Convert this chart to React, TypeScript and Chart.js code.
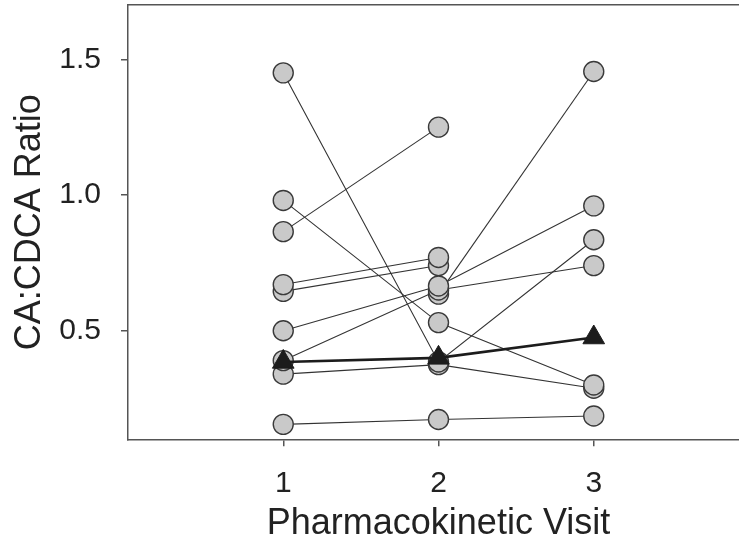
import React, { useEffect, useRef } from "react";
import { Chart, registerables } from "chart.js";

Chart.register(...registerables);

// ---- data ----
const visits = [1, 2, 3];
const xTicks = [1, 2, 3];
const yTicks = [0.5, 1.0, 1.5];

const subject1 = [1.45, 0.385, 0.835];
const subject2 = [0.98, 0.53, 0.3];
const subject3 = [0.865, 1.25, null];
const subject4 = [0.67, 0.77, null];
const subject5 = [0.645, 0.74, null];
const subject6 = [0.5, 0.665, 0.96];
const subject7 = [0.39, 0.65, 0.74];
const subject8 = [null, 0.635, 1.455];
const subject9 = [0.34, 0.375, 0.288];
const subject10 = [0.155, 0.173, 0.186];
const meanRatio = [0.385, 0.4, 0.475];

const subjects = [
  subject1, subject2, subject3, subject4, subject5,
  subject6, subject7, subject8, subject9, subject10,
];

const FONT = "'Liberation Sans', Arial, Helvetica, sans-serif";
const AXIS = "#555555";
const TEXT = "#222222";

export default function App() {
  const ref = useRef<HTMLCanvasElement | null>(null);

  useEffect(() => {
    if (!ref.current) return;
    const toPts = (arr: (number | null)[]) =>
      visits.map((v, i) => ({ x: v, y: arr[i] }));

    const datasets: any[] = [
      {
        label: "Mean",
        data: toPts(meanRatio),
        order: -1,
        borderColor: "#1c1c1c",
        borderWidth: 2.6,
        pointStyle: "triangle",
        pointRadius: 12.5,
        pointBackgroundColor: "#1c1c1c",
        pointBorderColor: "#1c1c1c",
        pointBorderWidth: 1,
        tension: 0,
      },
      ...subjects.map((s, i) => ({
        label: "Subject " + (i + 1),
        data: toPts(s),
        borderColor: "#333333",
        borderWidth: 1.1,
        pointStyle: "circle",
        pointRadius: 10,
        pointBackgroundColor: "#c9c9c9",
        pointBorderColor: "#3a3a3a",
        pointBorderWidth: 1.4,
        tension: 0,
        spanGaps: false,
      })),
    ];

    const chart = new Chart(ref.current, {
      type: "line",
      data: { datasets },
      options: {
        animation: false,
        responsive: false,
        maintainAspectRatio: false,
        layout: { autoPadding: false, padding: { top: 5, left: 0, right: 0, bottom: 0 } },
        plugins: { legend: { display: false }, tooltip: { enabled: false } },
        scales: {
          x: {
            type: "linear",
            position: "bottom",
            min: 0,
            max: 4,
            afterBuildTicks: (scale: any) => {
              scale.ticks = xTicks.map((v) => ({ value: v }));
            },
            afterFit: (scale: any) => {
              scale.height = 106.7;
              scale.paddingLeft = 0;
              scale.paddingRight = 0;
            },
            ticks: {
              autoSkip: false,
              padding: 19,
              color: TEXT,
              font: { family: FONT, size: 30 },
              callback: (v: any) => String(v),
            },
            grid: {
              drawOnChartArea: false,
              drawTicks: true,
              tickLength: 7,
              color: AXIS,
              lineWidth: 1.5,
            },
            border: { display: true, color: AXIS, width: 1.5 },
            title: {
              display: true,
              text: "Pharmacokinetic Visit",
              color: TEXT,
              font: { family: FONT, size: 36 },
              padding: { top: 0, bottom: 0 },
            },
          },
          x2: {
            type: "linear",
            position: "top",
            min: 0,
            max: 4,
            afterFit: (scale: any) => {
              scale.height = 0;
              scale.paddingLeft = 0;
              scale.paddingRight = 0;
            },
            ticks: { display: false },
            grid: { display: false, drawTicks: false },
            border: { display: true, color: AXIS, width: 1.5 },
          },
          y: {
            type: "linear",
            position: "left",
            min: 0.1,
            max: 1.7,
            afterBuildTicks: (scale: any) => {
              scale.ticks = yTicks.map((v) => ({ value: v }));
            },
            afterFit: (scale: any) => {
              scale.width = 128;
              scale.paddingTop = 0;
              scale.paddingBottom = 0;
            },
            ticks: {
              padding: 20,
              color: TEXT,
              font: { family: FONT, size: 30 },
              callback: (v: any) => Number(v).toFixed(1),
            },
            grid: {
              drawOnChartArea: false,
              drawTicks: true,
              tickLength: 7,
              color: AXIS,
              lineWidth: 1.5,
            },
            border: { display: true, color: AXIS, width: 1.5 },
            title: {
              display: true,
              text: "CA:CDCA Ratio",
              color: TEXT,
              font: { family: FONT, size: 36 },
              padding: { top: 8, bottom: 0 },
            },
          },
        },
      } as any,
    });
    return () => chart.destroy();
  }, []);

  return (
    <div
      style={{
        position: "absolute",
        left: 0,
        top: 0,
        width: 739,
        height: 546,
        overflow: "hidden",
        background: "#ffffff",
      }}
    >
      <canvas
        ref={ref}
        width={749}
        height={546}
        style={{ width: 749, height: 546, display: "block" }}
      />
    </div>
  );
}
